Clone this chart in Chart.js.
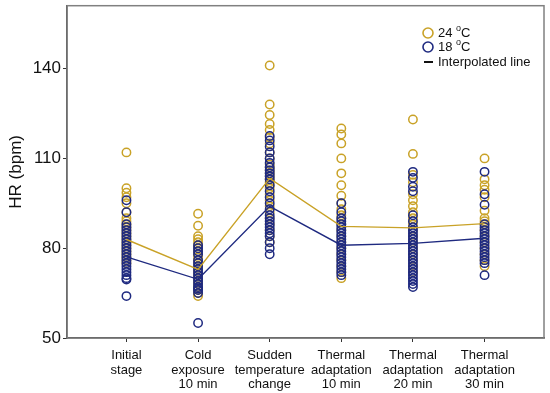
<!DOCTYPE html>
<html>
<head>
<meta charset="utf-8">
<script src="https://cdn.jsdelivr.net/npm/chart.js@4.4.1/dist/chart.umd.min.js"></script>
<style>
  html, body { margin: 0; background: #fff; }
  #wrap { width: 550px; height: 393px; }
</style>
</head>
<body>
<div id="wrap"><canvas id="hrChart"></canvas></div>
<script>
// categories (x = 1..6)
const categories = [
  ['Initial', 'stage'],
  ['Cold', 'exposure', '10 min'],
  ['Sudden', 'temperature', 'change'],
  ['Thermal', 'adaptation', '10 min'],
  ['Thermal', 'adaptation', '20 min'],
  ['Thermal', 'adaptation', '30 min']
];
const yTicks = [50, 80, 110, 140];

// individual HR values, one list per stage
const hr24 = [
  [112, 100, 98.5, 97, 95, 92, 90, 89, 88, 87, 86, 85, 84, 83, 82, 81, 80, 79, 78, 77, 76, 75],
  [91.5, 87.5, 84, 83, 82, 81, 80, 79, 78, 77, 76, 75, 74, 73, 72, 71, 70, 69, 68, 67, 66, 65, 64],
  [141, 128, 124.5, 121.5, 119.5, 117, 115, 112, 110, 108, 107, 106, 105, 104, 103, 102, 101, 100, 98, 96, 94, 92, 90, 88, 86, 84, 82],
  [120, 118, 115, 110, 105, 101, 97.5, 95, 93, 91, 90, 88, 86, 84, 82, 80, 78, 76, 74, 72, 70],
  [123, 111.5, 104.5, 102, 98, 96, 94, 92, 90, 88, 86, 84, 82, 80, 78, 76, 74, 72],
  [110, 103, 101, 99.5, 97, 92.5, 90, 89, 88, 86, 84, 82, 80, 78, 76, 74]
];
const hr18 = [
  [96, 92, 88, 87, 86, 85, 84, 83, 82, 81, 80, 79, 78, 77, 76, 75, 74, 73, 72, 71, 70, 69.5, 64],
  [81, 80, 79, 78, 76, 75, 74, 73, 72, 71, 70, 69, 68, 67, 66.5, 66, 65, 55],
  [117.5, 116, 114, 112, 110, 108.5, 107, 106, 105, 104, 103, 101, 99, 97, 95, 93, 91, 90, 89, 88, 87, 86, 85, 84, 82, 80, 78],
  [95, 92, 90, 89, 88, 87, 86, 85, 84, 83, 82, 81, 80, 79, 78, 77, 76, 75, 74, 73, 72, 71],
  [105.5, 103.5, 100.5, 99, 91, 89, 87, 86, 85, 84, 83, 82, 81, 80, 79, 78, 77, 76, 75, 74, 73, 72, 71, 70, 69, 68, 67],
  [105.5, 98, 94.5, 88, 87, 86, 85, 84, 83, 82, 81, 80, 79, 78, 77, 76, 75, 71]
];

// interpolated lines
const line24 = [82.9, 72.9, 103.3, 87.3, 86.8, 88.2];
const line18 = [77.1, 69.6, 94.0, 81.0, 81.6, 83.3];

const GOLD = '#c9a227';
const NAVY = '#1f2a80';

const toPoints = (groups) => groups.flatMap((vals, i) => vals.map(v => ({ x: i + 1, y: v })));
const toLine = (vals) => vals.map((v, i) => ({ x: i + 1, y: v }));

// box around plot + legend inside
const frameAndLegend = {
  id: 'frameAndLegend',
  beforeDatasetsDraw(chart) {
    const { ctx, chartArea: a } = chart;
    ctx.save();
    ctx.strokeStyle = '#808080';
    ctx.lineWidth = 1.5;
    ctx.strokeRect(a.left, a.top, a.right - a.left, a.bottom - a.top);
    ctx.restore();
  },
  afterDraw(chart) {
    const { ctx } = chart;
    ctx.save();
    ctx.font = '13px "Liberation Sans", Arial, sans-serif';
    ctx.textBaseline = 'middle';
    ctx.fillStyle = '#111';
    const rows = [
      { y: 33, color: GOLD, num: '24' },
      { y: 47, color: NAVY, num: '18' }
    ];
    rows.forEach(r => {
      ctx.beginPath();
      ctx.lineWidth = 1.6;
      ctx.strokeStyle = r.color;
      ctx.arc(428, r.y, 5, 0, Math.PI * 2);
      ctx.stroke();
      let x = 438;
      ctx.font = '13px "Liberation Sans", Arial, sans-serif';
      ctx.fillText(r.num + ' ', x, r.y);
      x += ctx.measureText(r.num + ' ').width;
      ctx.font = '9px "Liberation Sans", Arial, sans-serif';
      ctx.fillText('o', x, r.y - 4);
      x += ctx.measureText('o').width;
      ctx.font = '13px "Liberation Sans", Arial, sans-serif';
      ctx.fillText('C', x, r.y);
    });
    ctx.beginPath();
    ctx.strokeStyle = '#111';
    ctx.lineWidth = 2;
    ctx.moveTo(424, 62);
    ctx.lineTo(433, 62);
    ctx.stroke();
    ctx.fillText('Interpolated line', 438, 62);
    ctx.restore();
  }
};

new Chart(document.getElementById('hrChart'), {
  type: 'scatter',
  data: {
    datasets: [
      { type: 'line', data: toLine(line24), borderColor: GOLD, borderWidth: 1.4, pointRadius: 0, fill: false, order: 0 },
      { type: 'line', data: toLine(line18), borderColor: NAVY, borderWidth: 1.4, pointRadius: 0, fill: false, order: 0 },
      { data: toPoints(hr18), borderColor: NAVY, backgroundColor: 'rgba(0,0,0,0)', pointRadius: 4.2, pointBorderWidth: 1.5, order: 1 },
      { data: toPoints(hr24), borderColor: GOLD, backgroundColor: 'rgba(0,0,0,0)', pointRadius: 4.2, pointBorderWidth: 1.5, order: 2 }
    ]
  },
  options: {
    responsive: true,
    maintainAspectRatio: false,
    animation: false,
    layout: { padding: { top: 5, right: 6, left: 0, bottom: 0 } },
    plugins: { legend: { display: false }, tooltip: { enabled: false } },
    scales: {
      x: {
        type: 'linear',
        min: 0.17,
        max: 6.83,
        afterBuildTicks: (s) => { s.ticks = categories.map((c, i) => ({ value: i + 1 })); },
        afterFit: (s) => { s.height = 55; s.paddingLeft = 0; s.paddingRight = 0; },
        grid: { drawOnChartArea: false, drawTicks: true, tickLength: 4, color: '#333' },
        border: { color: '#333', width: 1.5 },
        ticks: {
          maxRotation: 0,
          autoSkip: false,
          padding: 6,
          color: '#111',
          font: { family: '"Liberation Sans", Arial, sans-serif', size: 13, lineHeight: 1.13 },
          callback: (v) => categories[v - 1] || ''
        }
      },
      y: {
        min: 50,
        max: 161,
        afterBuildTicks: (s) => { s.ticks = yTicks.map(v => ({ value: v })); },
        afterFit: (s) => { s.width = 67; s.paddingTop = 0; s.paddingBottom = 0; },
        grid: { drawOnChartArea: false, drawTicks: true, tickLength: 4, color: '#333' },
        border: { color: '#333', width: 1.5 },
        ticks: {
          padding: 2,
          color: '#111',
          font: { family: '"Liberation Sans", Arial, sans-serif', size: 17 }
        },
        title: {
          display: true,
          text: 'HR (bpm)',
          color: '#111',
          padding: { top: 6, bottom: 0 },
          font: { family: '"Liberation Sans", Arial, sans-serif', size: 17 }
        }
      }
    }
  },
  plugins: [frameAndLegend]
});
</script>
</body>
</html>
